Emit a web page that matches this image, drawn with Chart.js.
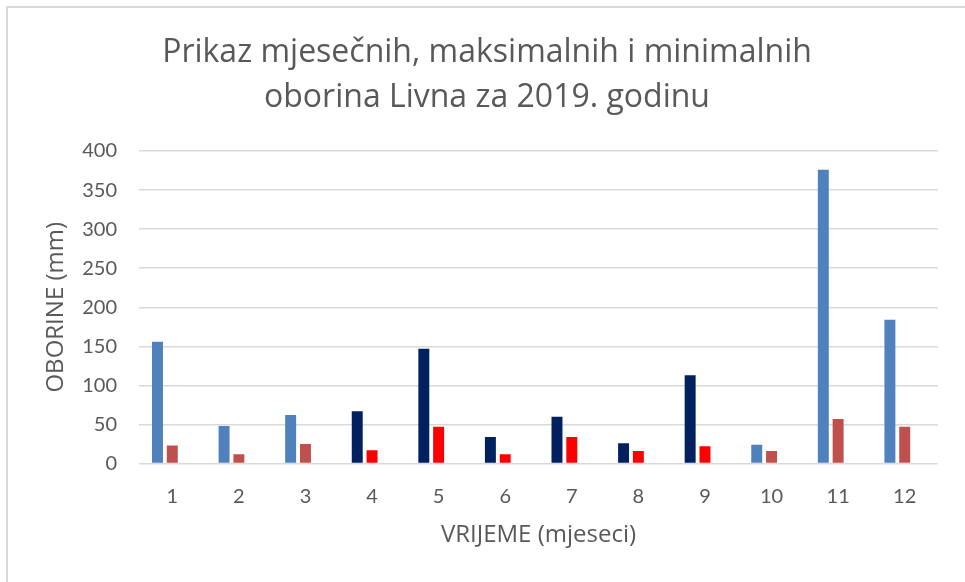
<!DOCTYPE html>
<html>
<head>
<meta charset="utf-8">
<script src="https://cdn.jsdelivr.net/npm/chart.js@4/dist/chart.umd.min.js"></script>
<style>
  body { margin: 0; background: #fff; }
  #frame { position: absolute; left: 6px; top: 6px; width: 1000px; height: 1000px; border: 2px solid #d9d9d9; box-sizing: border-box; }
  #wrap { position: absolute; left: 0; top: 0; width: 965px; height: 582px; }
</style>
</head>
<body>
<div id="frame"></div>
<div id="wrap"><canvas id="chart" width="965" height="582"></canvas></div>
<script>
const months = ['1', '2', '3', '4', '5', '6', '7', '8', '9', '10', '11', '12'];
const monthly = [156, 48, 62, 67, 147, 34, 60, 26, 113, 24, 376, 184];
const extreme = [23, 12, 25, 17, 47, 12, 34, 16, 22, 16, 57, 47];
const empty = [null, null, null, null, null, null, null, null, null, null, null, null];
const yTicks = [0, 50, 100, 150, 200, 250, 300, 350, 400];
const titleLines = ['Prikaz mjesečnih, maksimalnih i minimalnih', 'oborina Livna za 2019. godinu'];

// ljetni mjeseci (4-9) su obojeni tamnije
const blue = months.map((m, i) => (i >= 3 && i <= 8) ? '#002060' : '#4F81BD');
const red = months.map((m, i) => (i >= 3 && i <= 8) ? '#FF0000' : '#C0504D');

const font = '"Open Sans", Lato, sans-serif';
const tickFont = 'Lato, "Open Sans", sans-serif';
const grey = '#595959';

// naslov je centriran na cijelu sliku, ne na podrucje grafa
const titlePlugin = {
    id: 'twoLineTitle',
    afterDraw(chart) {
        const ctx = chart.ctx;
        ctx.save();
        ctx.fillStyle = grey;
        ctx.font = '32px ' + font;
        ctx.textAlign = 'center';
        ctx.textBaseline = 'alphabetic';
        titleLines.forEach((t, i) => ctx.fillText(t, 487, 62 + i * 45));
        ctx.restore();
    }
};

new Chart(document.getElementById('chart'), {
    type: 'bar',
    data: {
        labels: months,
        datasets: [
            { label: 'Mjesečne', data: monthly, backgroundColor: blue },
            { label: 'Max/min', data: extreme, backgroundColor: red },
            { label: '', data: empty }
        ]
    },
    options: {
        responsive: false,
        animation: false,
        categoryPercentage: 0.667,
        barPercentage: 0.74,
        layout: { padding: { left: 0, right: 27, top: 151, bottom: 0 } },
        plugins: {
            legend: { display: false },
            tooltip: { enabled: false },
            title: { display: false }
        },
        scales: {
            x: {
                grid: { display: false },
                border: { display: false },
                ticks: { color: grey, font: { family: tickFont, size: 20 }, padding: 13 },
                title: {
                    display: true,
                    text: 'VRIJEME (mjeseci)',
                    color: grey,
                    font: { family: font, size: 24 },
                    padding: { top: 0, bottom: 32 }
                },
                afterFit: s => { s.height = 118.5; }
            },
            y: {
                min: 0,
                max: 400,
                afterBuildTicks: s => { s.ticks = yTicks.map(v => ({ value: v })); },
                grid: { color: '#d9d9d9', lineWidth: 1.5, drawTicks: false },
                border: { display: false },
                ticks: { color: grey, font: { family: tickFont, size: 20 }, padding: 22 },
                title: {
                    display: true,
                    text: 'OBORINE (mm)',
                    color: grey,
                    font: { family: font, size: 24 },
                    padding: { top: 42, bottom: 0 }
                },
                afterFit: s => { s.width = 139; }
            }
        }
    },
    plugins: [titlePlugin]
});
</script>
</body>
</html>
